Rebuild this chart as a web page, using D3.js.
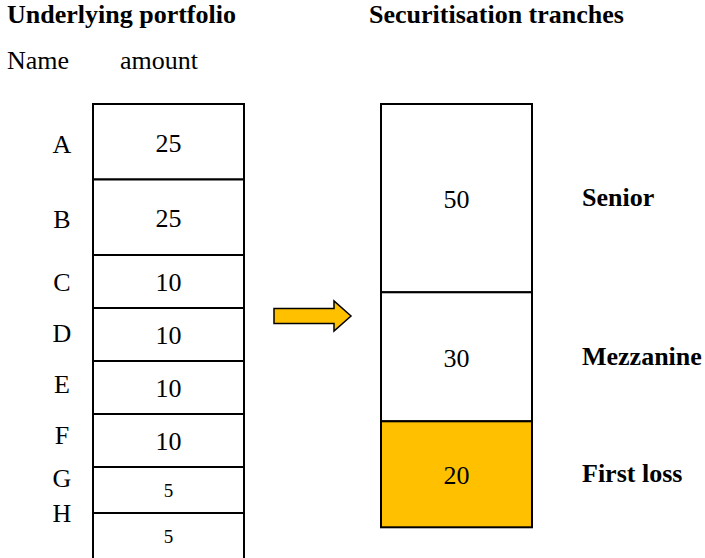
<!DOCTYPE html>
<html>
  <head>
    <title>Securitisation tranches</title>
    <script src="https://d3js.org/d3.v7.min.js"></script>
    <style>
      body { margin: 0; background: #fff; }
      text { font-family: "Liberation Serif", "Times New Roman", serif; fill: #000; }
    </style>
  </head>
  <body>
    <svg id="chart" width="705" height="558"></svg>

    <script>
      // underlying portfolio
      var names = ["A", "B", "C", "D", "E", "F", "G", "H"];
      var amounts = [25, 25, 10, 10, 10, 10, 5, 5];

      // securitisation tranches
      var tranches = ["Senior", "Mezzanine", "First loss"];
      var trancheAmounts = [50, 30, 20];

      var svg = d3.select("#chart");

      var topY = 104, colW = 151;
      var leftX = 93, rightX = 381;

      // box heights as drawn in the original (not strictly proportional)
      var leftH = d3.scaleLinear().domain([5, 10, 25]).range([46, 53, 75.5]);
      var rightH = d3.scaleLinear().domain([20, 30, 50]).range([106, 129, 188.3]);
      // the name column is spaced a little tighter than the boxes
      var nameH = d3.scaleLinear().domain([5, 10, 25]).range([35, 51, 75]);
      var numSize = d3.scaleThreshold().domain([10]).range([19, 26]);
      var trancheFill = d3.scaleOrdinal().domain(tranches).range(["#ffffff", "#ffffff", "#FFC000"]);

      function stack(values, scale, y0) {
        var y = y0;
        return values.map(function (v) {
          var h = scale(v);
          var d = { value: v, y: y, h: h };
          y += h;
          return d;
        });
      }

      var leftData = stack(amounts, leftH, topY).map(function (d, i) { d.name = names[i]; return d; });
      var nameData = stack(amounts, nameH, topY + 1.5).map(function (d, i) { d.name = names[i]; return d; });
      var rightData = stack(trancheAmounts, rightH, topY).map(function (d, i) { d.name = tranches[i]; return d; });

      // headings
      svg.append("text").attr("x", 7).attr("y", 23)
        .style("font-size", "26px").style("font-weight", "bold")
        .text("Underlying portfolio");
      svg.append("text").attr("x", 369).attr("y", 23)
        .style("font-size", "26px").style("font-weight", "bold")
        .text("Securitisation tranches");
      svg.append("text").attr("x", 7).attr("y", 69).style("font-size", "26px").text("Name");
      svg.append("text").attr("x", 120).attr("y", 69).style("font-size", "26px").text("amount");

      // left column
      var lg = svg.append("g").selectAll("g").data(leftData).enter().append("g");

      lg.append("rect")
        .attr("x", leftX)
        .attr("y", d => d.y)
        .attr("width", colW)
        .attr("height", d => d.h)
        .style("fill", "#fff")
        .style("stroke", "#000")
        .style("stroke-width", "2px");

      lg.append("text")
        .attr("x", leftX + colW / 2)
        .attr("y", d => d.y + d.h / 2)
        .attr("dy", "0.38em")
        .attr("text-anchor", "middle")
        .style("font-size", d => numSize(d.value) + "px")
        .text(d => d.value);

      svg.append("g").selectAll("text")
        .data(nameData)
        .enter()
        .append("text")
        .attr("x", 62)
        .attr("y", d => d.y + d.h / 2)
        .attr("dy", "0.38em")
        .attr("text-anchor", "middle")
        .style("font-size", "26px")
        .text(d => d.name);

      // right column
      var rg = svg.append("g").selectAll("g").data(rightData).enter().append("g");

      rg.append("rect")
        .attr("x", rightX)
        .attr("y", d => d.y)
        .attr("width", colW)
        .attr("height", d => d.h)
        .style("fill", d => trancheFill(d.name))
        .style("stroke", "#000")
        .style("stroke-width", "2px");

      rg.append("text")
        .attr("x", rightX + colW / 2)
        .attr("y", d => d.y + d.h / 2)
        .attr("dy", "0.38em")
        .attr("text-anchor", "middle")
        .style("font-size", "26px")
        .text(d => d.value);

      rg.append("text")
        .attr("x", 582)
        .attr("y", d => d.y + d.h / 2)
        .attr("dy", "0.3em")
        .style("font-size", "26px")
        .style("font-weight", "bold")
        .text(d => d.name);

      // arrow between the two columns
      var ax0 = leftX + colW + 30, ax1 = rightX - 30, ay = 316;
      var arrow = d3.path();
      arrow.moveTo(ax0, ay - 7.5);
      arrow.lineTo(ax1 - 17, ay - 7.5);
      arrow.lineTo(ax1 - 17, ay - 15);
      arrow.lineTo(ax1, ay);
      arrow.lineTo(ax1 - 17, ay + 15);
      arrow.lineTo(ax1 - 17, ay + 7.5);
      arrow.lineTo(ax0, ay + 7.5);
      arrow.closePath();

      svg.append("path")
        .attr("d", arrow.toString())
        .style("fill", "#FFC000")
        .style("stroke", "#000")
        .style("stroke-width", "1.5px")
        .style("stroke-linejoin", "miter");
    </script>
  </body>
</html>
